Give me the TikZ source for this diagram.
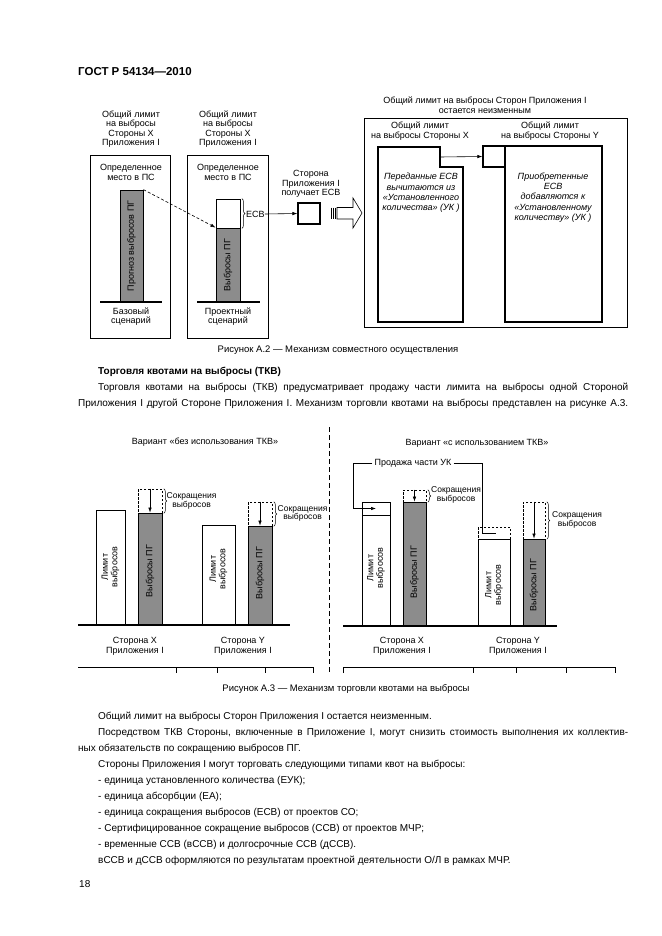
\documentclass[tikz,border=0pt]{standalone}
\usepackage{fontspec}
\setmainfont{Liberation Sans}
\usetikzlibrary{arrows.meta,decorations.pathreplacing,fit}
\definecolor{barg}{RGB}{140,140,140}
\begin{document}
\begin{tikzpicture}[x=1pt,y=-1pt,
 ft/.style={font=\fontsize{9}{9.6}\selectfont, align=center, inner sep=0pt},
 redl/.style={font=\fontsize{8.5}{8.8}\selectfont, align=center, inner sep=0pt, anchor=west},
 fti/.style={font=\itshape\fontsize{9}{10.3}\selectfont, align=center, inner sep=0pt},
 body/.style={font=\fontsize{10}{12}\selectfont, anchor=base west, inner sep=0pt},
 capt/.style={font=\fontsize{9.5}{11}\selectfont, inner sep=0pt},
 frame/.style={draw, line width=0.6pt, inner sep=0pt},
 gbar/.style={draw, fill=barg, line width=0.8pt, inner sep=0pt},
 wbar/.style={draw, fill=white, line width=0.8pt, inner sep=0pt},
 dbox/.style={draw, dash pattern=on 2.5pt off 1.5pt, line width=0.6pt, inner sep=0pt},
 tbox/.style={draw, fill=white, line width=1.3pt, inner sep=0pt},
 arr/.style={-{Latex[length=5pt,width=3.5pt]}, line width=0.6pt},
 brc/.style={decorate, decoration={brace, amplitude=3pt}, line width=0.5pt},
 ground/.style={line width=1.2pt},
 rot/.style={rotate=90, font=\fontsize{9}{9.6}\selectfont, align=center, inner sep=0pt}
]
\useasboundingbox[fill=white] (0,0) rectangle (661,936);

% header
\node[anchor=base west, inner sep=0pt, font=\bfseries\fontsize{11.5}{13}\selectfont] (hdr) at (78,76) {ГОСТ Р 54134—2010};

% ===== Figure A.2 =====
% left panel
\node[ft] (t1) at (131,129) {Общий лимит\\на выбросы\\Стороны X\\Приложения I};
\node[frame, fit={(90,155)(170,338)}] (lbox) {};
\node[ft] (lps) at (131,172.5) {Определенное\\место в ПС};
\node[gbar, fit={(120,190)(143,302)}] (lbar) {};
\node[rot] (lbart) at (131.5,246) {Прогноз выбросов ПГ};
\draw[ground] (100,302) -- (162,302);
\node[ft] (lsc) at (131,316.5) {Базовый\\сценарий};

% middle panel
\node[ft] (t2) at (228,129) {Общий лимит\\на выбросы\\Стороны X\\Приложения I};
\node[frame, fit={(187,155)(268,338)}] (mbox) {};
\node[ft] (mps) at (228,172.5) {Определенное\\место в ПС};
\node[wbar, fit={(216,199)(240,228)}] (mw) {};
\node[gbar, fit={(216,228)(240,302)}] (mg) {};
\node[rot] (mgt) at (228,265) {Выбросы ПГ};
\draw[ground] (197,302) -- (260,302);
\node[ft] (msc) at (228,316.5) {Проектный\\сценарий};
\draw[brc] ([xshift=1.5pt]mw.north east) -- ([xshift=1.5pt]mw.south east);
\node[ft, anchor=west] (esv) at (246,214) {ЕСВ};
\draw[arr, dash pattern=on 3pt off 2pt] (lbar.north east) -- (mg.north west);

% receiving party
\node[ft] (rcv) at (311,184) {Сторона\\Приложения I\\получает ЕСВ};
\node[tbox, fit={(298,203)(320,224)}] (sq) {};
\draw[arr] (esv.east) -- (sq.west);
% hollow arrow
\draw[line width=0.5pt] (331,207.5) -- (331,219) (333,207.5) -- (333,219) (335,207.5) -- (335,219);
\draw[line width=0.6pt, fill=white] (337,207.5) -- (353,207.5) -- (353,198) -- (362,213) -- (353,228) -- (353,219) -- (337,219) -- cycle;

% right panel
\node[ft] (t3) at (485,105) {Общий лимит на выбросы Сторон Приложения I\\остается неизменным};
\node[frame, fit={(364,118)(627,327)}] (rbox) {};
\node[ft] (t4) at (420,131) {Общий лимит\\на выбросы Стороны X};
\node[ft] (t5) at (550,131) {Общий лимит\\на выбросы Стороны Y};
\draw[line width=1.3pt, fill=white] (378,147) -- (440,147) -- (440,167) -- (463,167) -- (463,322) -- (378,322) -- cycle;
\coordinate (xn) at (440,157);
\node[tbox, fit={(505,146)(602,322)}] (ybox) {};
\node[tbox, fit={(483,146)(505,167)}] (sqy) {};
\draw[arr] (xn) -- (sqy.west);
\node[fti] (xt) at (421,193) {Переданные ЕСВ\\вычитаются из\\«Установленного\\количества» (УК )};
\node[fti] (yt) at (553,197.5) {Приобретенные\\ЕСВ\\добавляются к\\«Установленному\\количеству» (УК )};

\node[capt] (cap2) at (338,350) {Рисунок А.2 — Механизм совместного осуществления};

% ===== text =====
\node[body, font=\bfseries\fontsize{10}{12}\selectfont] (h1) at (98,374.5) {Торговля квотами на выбросы (ТКВ)};
\node[body] (p1) at (98,390) {\makebox[530pt][s]{Торговля квотами на выбросы (ТКВ) предусматривает продажу части лимита на выбросы одной Стороной}};
\node[body] (p2) at (78,406) {\makebox[550pt][s]{Приложения I другой Стороне Приложения I. Механизм торговли квотами на выбросы представлен на рисунке А.3.}};

% ===== Figure A.3 =====
\draw[dash pattern=on 5pt off 3pt, line width=0.6pt] (329,427) -- (329,673);
% left half
\node[ft] (v1) at (205,442) {Вариант «без использования ТКВ»};
\node[wbar, fit={(96,510)(125,625)}] (a1) {};
\node[rot] at (110.5,567) {Лимит\\выбросов};
\node[dbox, fit={(138,489)(162,513)}] (a2d) {};
\node[gbar, fit={(138,513)(162,625)}] (a2) {};
\node[rot] at (150,571) {Выбросы ПГ};
\draw[arr] (a2d.north) -- (a2.north);
\draw[brc] ([xshift=1.5pt]a2d.north east) -- ([xshift=1.5pt]a2d.south east);
\node[redl] (s1) at (166.5,501) {Сокращения\\выбросов};
\node[wbar, fit={(202,525)(235,625)}] (a3) {};
\node[rot] at (218.5,569) {Лимит\\выбросов};
\node[dbox, fit={(248,502)(272,526)}] (a4d) {};
\node[gbar, fit={(248,526)(272,625)}] (a4) {};
\node[rot] at (260,573) {Выбросы ПГ};
\draw[arr] (a4d.north) -- (a4.north);
\draw[brc] ([xshift=1.5pt]a4d.north east) -- ([xshift=1.5pt]a4d.south east);
\node[redl] (s2) at (277.5,513.5) {Сокращения\\выбросов};
\draw[ground] (78,625) -- (290,625);
\node[ft] (px1) at (135,646) {Сторона X\\Приложения I};
\node[ft] (py1) at (243,646) {Сторона Y\\Приложения I};

% right half
\node[ft] (v2) at (477,443) {Вариант «с использованием ТКВ»};
\node[wbar, fit={(362,502)(390,515)}] (b1t) {};
\node[wbar, fit={(362,515)(390,626)}] (b1) {};
\node[rot] at (376,568) {Лимит\\выбросов};
\node[dbox, fit={(403,490)(426,502)}] (b2d) {};
\node[gbar, fit={(403,502)(426,626)}] (b2) {};
\node[rot] at (414.5,572) {Выбросы ПГ};
\draw[arr] (b2d.north) -- (b2.north);
\draw[brc] ([xshift=1.5pt]b2d.north east) -- ([xshift=1.5pt]b2d.south east);
\node[redl] (s3) at (431,495) {Сокращения\\выбросов};
\node[dbox, fit={(478,527)(510,539)}] (b3d) {};
\node[wbar, fit={(478,539)(510,626)}] (b3) {};
\node[rot] at (494,585) {Лимит\\выбросов};
\node[dbox, fit={(523,502)(545,539)}] (b4d) {};
\node[gbar, fit={(523,539)(545,626)}] (b4) {};
\node[rot] at (534,585) {Выбросы ПГ};
\draw[arr] (b4d.north) -- (b4.north);
\draw[brc] ([xshift=1.5pt]b4d.north east) -- ([xshift=1.5pt]b4d.south east);
\node[redl] (s4) at (552,520) {Сокращения\\выбросов};
\draw[ground] (343,626) -- (557,626);
\node[ft] (px2) at (402,646) {Сторона X\\Приложения I};
\node[ft] (py2) at (518,646) {Сторона Y\\Приложения I};
% sale connector
\node[ft, fill=white, inner xsep=2pt] (sale) at (413,463) {Продажа части УК};
\coordinate (sl) at (353,463);
\coordinate (sa) at (376,508.5);
\coordinate (sr) at (482,463);
\coordinate (se) at (496,533);
\draw[arr] (sale.west) -- (sl) |- (sa);
\draw[line width=0.6pt] (sale.east) -- (sr) |- (se);

% axis ticks
\draw[line width=0.6pt] (78,667) -- (313,667) -- (313,673)
  (176,667) -- (176,673) (217,667) -- (217,673) (265,667) -- (265,673);
\draw[line width=0.6pt] (343,673) -- (343,667) -- (615,667) -- (615,673)
  (473,667) -- (473,673) (516,667) -- (516,673) (566,667) -- (566,673);

\node[capt] (cap3) at (346,689) {Рисунок А.3 — Механизм торговли квотами на выбросы};

% ===== lower text =====
\node[body] (q1) at (98,719.5) {Общий лимит на выбросы Сторон Приложения I остается неизменным.};
\node[body] (q2) at (98,735.5) {\makebox[530pt][s]{Посредством ТКВ Стороны, включенные в Приложение I, могут снизить стоимость выполнения их коллектив-}};
\node[body] (q3) at (78,751.5) {ных обязательств по сокращению выбросов ПГ.};
\node[body] (q4) at (98,767.5) {Стороны Приложения I могут торговать следующими типами квот на выбросы:};
\node[body] (q5) at (98,783.5) {- единица установленного количества (ЕУК);};
\node[body] (q6) at (98,799.5) {- единица абсорбции (ЕА);};
\node[body] (q7) at (98,815.5) {- единица сокращения выбросов (ЕСВ) от проектов СО;};
\node[body] (q8) at (98,831.5) {- Сертифицированное сокращение выбросов (ССВ) от проектов МЧР;};
\node[body] (q9) at (98,847.5) {- временные ССВ (вССВ) и долгосрочные ССВ (дССВ).};
\node[body] (q10) at (98,863.5) {вССВ и дССВ оформляются по результатам проектной деятельности О/Л в рамках МЧР.};

\node[body] (pg) at (79,887) {18};
\end{tikzpicture}
\end{document}
